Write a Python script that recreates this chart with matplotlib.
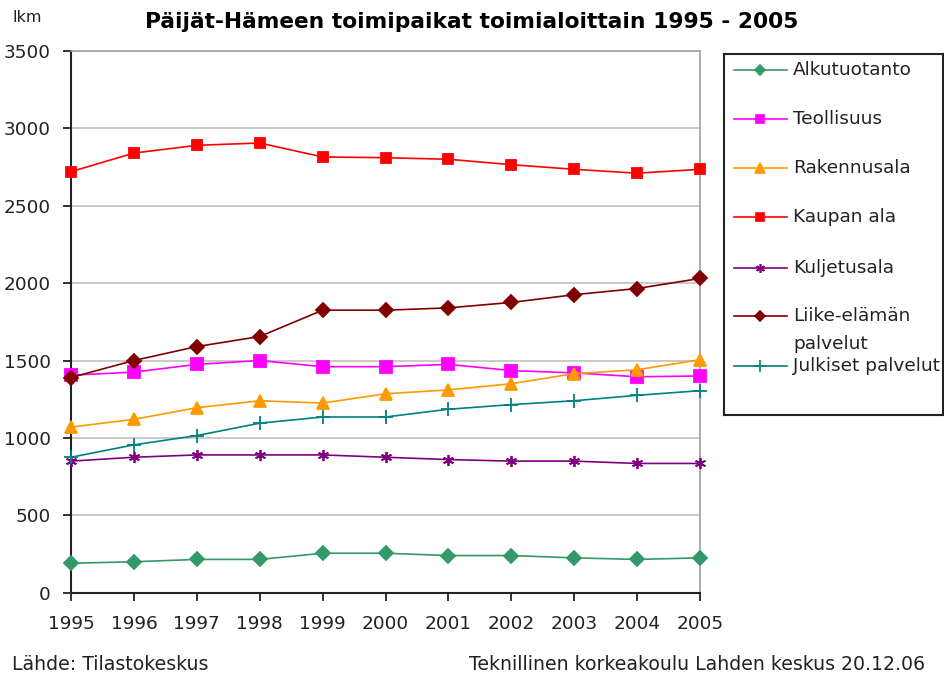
import matplotlib
matplotlib.use("Agg")
import matplotlib.pyplot as plt

years = [1995, 1996, 1997, 1998, 1999, 2000, 2001, 2002, 2003, 2004, 2005]
alkutuotanto = [190, 200, 215, 215, 255, 255, 240, 240, 225, 215, 225]
teollisuus = [1405, 1425, 1475, 1500, 1460, 1460, 1475, 1435, 1420, 1395, 1400]
rakennusala = [1070, 1120, 1195, 1240, 1225, 1285, 1310, 1350, 1415, 1440, 1505]
kaupan_ala = [2720, 2840, 2890, 2905, 2815, 2810, 2800, 2765, 2735, 2710, 2735]
kuljetusala = [850, 875, 890, 890, 890, 875, 860, 850, 850, 835, 835]
liike_elaman = [1390, 1500, 1590, 1655, 1825, 1825, 1840, 1875, 1925, 1965, 2030]
julkiset = [875, 955, 1015, 1095, 1135, 1135, 1185, 1215, 1240, 1275, 1305]

labels = ["Alkutuotanto", "Teollisuus", "Rakennusala", "Kaupan ala",
          "Kuljetusala", "Liike-elämän\npalvelut", "Julkiset palvelut"]
yticks = [0, 500, 1000, 1500, 2000, 2500, 3000, 3500]

series = [alkutuotanto, teollisuus, rakennusala, kaupan_ala, kuljetusala, liike_elaman, julkiset]
styles = [
    dict(color="#339966", marker="D", ms=7),
    dict(color="#FF00FF", marker="s", ms=8),
    dict(color="#FF9900", marker="^", ms=9),
    dict(color="#FF0000", marker="s", ms=7),
    dict(color="#800080", marker=(6, 2, 0), ms=8),
    dict(color="#800000", marker="D", ms=7),
    dict(color="#008080", marker="+", ms=10),
]

plt.rcParams['font.family'] = ['DejaVu Sans']
TXT = "#222222"

fig = plt.figure(figsize=(9.44, 6.75), dpi=100)
ax = fig.add_axes([71/944, 1-592.7/675, (700-71)/944, (592.7-50.9)/675])

for vals, st in zip(series, styles):
    ax.plot(years, vals, color=st["color"], lw=1.2, marker=st["marker"], ms=st["ms"],
            mec=st["color"], mfc=st["color"], mew=1.3, clip_on=False, zorder=3)

ax.set_xlim(1995, 2005)
ax.set_ylim(0, 3500)
ax.set_yticks(yticks)
ax.set_xticks(years)
ax.grid(axis="y", color="#c0c0c0", lw=1.2)
ax.set_axisbelow(True)
for s in ["top", "right"]:
    ax.spines[s].set_color("#a0a0a0")
    ax.spines[s].set_linewidth(1.2)
for s in ["left", "bottom"]:
    ax.spines[s].set_color(TXT)
    ax.spines[s].set_linewidth(1.5)
ax.tick_params(axis="both", direction="out", length=6, width=1.3, color=TXT,
               labelsize=13.3, labelcolor=TXT)
ax.tick_params(axis="x", pad=10)
ax.tick_params(axis="y", pad=8.5)

fig.text(472/944, 1-22/675, "Päijät-Hämeen toimipaikat toimialoittain 1995 - 2005",
         ha="center", va="center", fontsize=15.7, fontweight="bold")
fig.text(12/944, 1-18/675, "lkm", ha="left", va="center", fontsize=11.5, color=TXT)
fig.text(12/944, 1-665/675, "Lähde: Tilastokeskus", ha="left", va="center",
         fontsize=13.6, color=TXT)
fig.text(925/944, 1-665/675, "Teknillinen korkeakoulu Lahden keskus 20.12.06",
         ha="right", va="center", fontsize=13.6, color=TXT)

# legend box
lax = fig.add_axes([724/944, 1-415/675, (943-724)/944, (415-54)/675])
lax.set_xlim(724, 943)
lax.set_ylim(415, 54)
lax.set_xticks([])
lax.set_yticks([])
for s in lax.spines.values():
    s.set_color(TXT)
    s.set_linewidth(1.5)
entry_y = [70, 119, 168, 217, 268, 316, 366]
for lab, st, yy in zip(labels, styles, entry_y):
    lax.plot([734, 787], [yy, yy], color=st["color"], lw=1.2)
    lax.plot([760], [yy], color=st["color"], marker=st["marker"], ms=st["ms"] * 0.8,
             mec=st["color"], mfc=st["color"], mew=1.2, lw=0)
    for i, part in enumerate(lab.split("\n")):
        lax.text(793, yy + 28 * i, part, ha="left", va="center",
                 fontsize=13.3, color=TXT)

fig.savefig("out.png", dpi=100)
